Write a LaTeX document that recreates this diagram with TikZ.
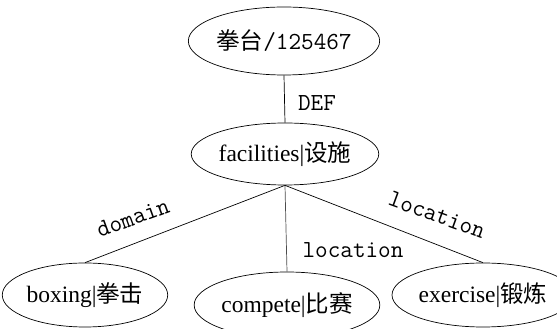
\documentclass[tikz,border=0pt]{standalone}
\usepackage{fontspec}
\setmainfont{Liberation Serif}
\newfontfamily\cjk{Noto Sans CJK SC}
\usetikzlibrary{shapes.geometric}
\tikzset{
  concept/.style={ellipse, draw, line width=0.7pt, inner sep=0pt,
    font=\fontsize{23.5}{28}\selectfont},
  rel/.style={line width=0.7pt},
  lbl/.style={font=\ttfamily\fontsize{24.5}{28}\selectfont, inner sep=0pt}
}
\begin{document}
\begin{tikzpicture}[x=1pt,y=1pt]
\useasboundingbox (0,0) rectangle (557,329);
\node[concept, minimum width=177pt, minimum height=68pt] (top) at (284,288)
  {{\cjk 拳台}{\ttfamily\fontsize{24.5}{28}\selectfont/125467}};
\node[concept, minimum width=164pt, minimum height=62pt] (fac) at (285,175)
  {facilities|{\cjk 设施}};
\node[concept, minimum width=149pt, minimum height=64pt] (box) at (85,34)
  {boxing|{\cjk 拳击}};
\node[concept, minimum width=174pt, minimum height=66pt] (comp) at (287,24)
  {compete|{\cjk 比赛}};
\node[concept, minimum width=154pt, minimum height=64pt] (exer) at (483,34)
  {exercise|{\cjk 锻炼}};
\draw[rel] (top.south) -- (fac.north);
\draw[rel] (fac.south) -- (box.north);
\draw[rel, draw=black!70] (fac.south) -- (comp.north);
\draw[rel] (fac.south) -- (exer.north);
\node[lbl] (ldef) at (317,226) {DEF};
\node[lbl, rotate=20] (ldom) at (133,111) {domain};
\node[lbl] (lloc1) at (353,79) {location};
\node[lbl, rotate=-20] (lloc2) at (437,114) {location};
\end{tikzpicture}
\end{document}
